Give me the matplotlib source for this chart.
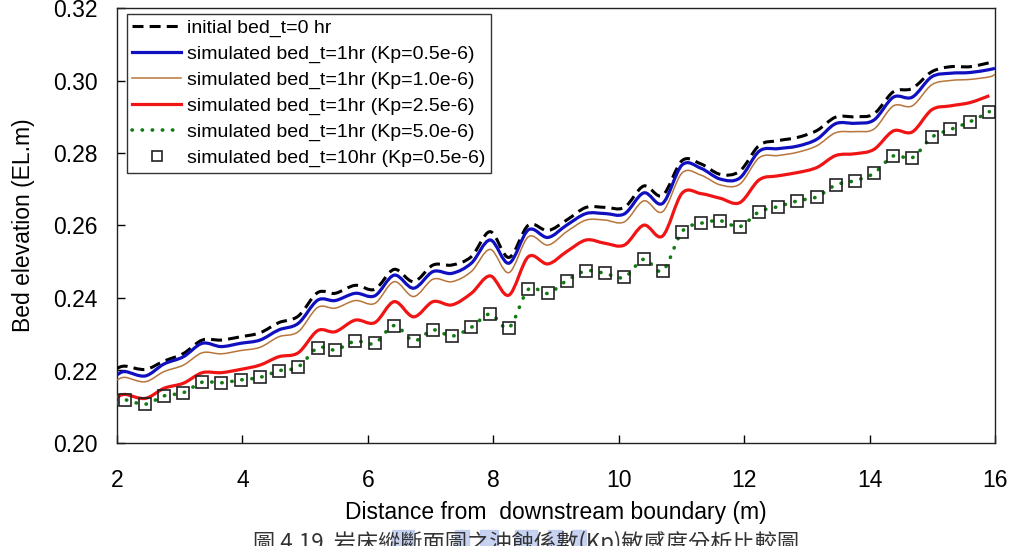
import numpy as np
import matplotlib.pyplot as plt
from matplotlib.path import Path
from matplotlib.patches import PathPatch, Rectangle
from matplotlib.lines import Line2D

plt.rcParams['font.family'] = ['Liberation Sans', 'Noto Sans CJK TC', 'DejaVu Sans']

# measuring stations (m from downstream boundary)
x_pts = [2.13, 2.45, 2.75, 3.06, 3.36, 3.66, 3.97, 4.28, 4.58, 4.89,
         5.20, 5.48, 5.80, 6.11, 6.42, 6.73, 7.04, 7.34, 7.65, 7.95,
         8.25, 8.56, 8.87, 9.17, 9.48, 9.78, 10.09, 10.40, 10.70, 11.01,
         11.31, 11.62, 11.93, 12.24, 12.54, 12.85, 13.16, 13.46, 13.77, 14.07,
         14.38, 14.68, 14.99, 15.29, 15.60, 15.91]
x_line = [2.0] + x_pts
x_long = [2.0] + x_pts + [16.0]

bed_init = [0.2206,
            0.2212, 0.2203, 0.2226, 0.2247, 0.2284, 0.2284, 0.2293, 0.2304, 0.2332, 0.2350,
            0.2415, 0.2413, 0.2435, 0.2424, 0.2479, 0.2445, 0.2491, 0.2491, 0.2514, 0.2583,
            0.2512, 0.2601, 0.2586, 0.2615, 0.2650, 0.2650, 0.2650, 0.2709, 0.2683, 0.2779,
            0.2770, 0.2741, 0.2750, 0.2821, 0.2834, 0.2843, 0.2862, 0.2899, 0.2900, 0.2908,
            0.2969, 0.2978, 0.3024, 0.3038, 0.3038, 0.3049]

bed_kp05 = [0.2188,
            0.2197, 0.2185, 0.2218, 0.2238, 0.2275, 0.2266, 0.2275, 0.2284, 0.2312, 0.2330,
            0.2394, 0.2393, 0.2413, 0.2406, 0.2463, 0.2427, 0.2473, 0.2468, 0.2496, 0.2560,
            0.2496, 0.2588, 0.2567, 0.2601, 0.2633, 0.2633, 0.2632, 0.2690, 0.2661, 0.2767,
            0.2758, 0.2728, 0.2731, 0.2805, 0.2812, 0.2819, 0.2838, 0.2881, 0.2882, 0.2891,
            0.2954, 0.2954, 0.3010, 0.3020, 0.3022, 0.3030,
            0.3034]

bed_kp10 = [0.2174,
            0.2181, 0.2169, 0.2197, 0.2215, 0.2249, 0.2246, 0.2255, 0.2264, 0.2293, 0.2307,
            0.2374, 0.2372, 0.2393, 0.2385, 0.2445, 0.2404, 0.2452, 0.2445, 0.2473, 0.2534,
            0.2470, 0.2569, 0.2546, 0.2583, 0.2615, 0.2615, 0.2610, 0.2668, 0.2638, 0.2745,
            0.2739, 0.2712, 0.2714, 0.2787, 0.2793, 0.2802, 0.2820, 0.2856, 0.2859, 0.2866,
            0.2930, 0.2930, 0.2988, 0.3000, 0.3003, 0.3010,
            0.3017]

bed_kp25 = [0.2126,
            0.2134, 0.2123, 0.2151, 0.2165, 0.2194, 0.2194, 0.2203, 0.2215, 0.2238, 0.2249,
            0.2310, 0.2307, 0.2339, 0.2332, 0.2390, 0.2348, 0.2390, 0.2381, 0.2413, 0.2461,
            0.2408, 0.2514, 0.2494, 0.2528, 0.2560, 0.2551, 0.2546, 0.2601, 0.2571, 0.2689,
            0.2688, 0.2675, 0.2663, 0.2726, 0.2737, 0.2746, 0.2760, 0.2793, 0.2798, 0.2810,
            0.2861, 0.2858, 0.2919, 0.2930, 0.2939, 0.2958]

bed_10hr = [0.2119, 0.2107, 0.2130, 0.2139, 0.2168, 0.2166, 0.2174, 0.2181, 0.2199, 0.2210,
            0.2263, 0.2257, 0.2281, 0.2275, 0.2324, 0.2282, 0.2312, 0.2295, 0.2319, 0.2356,
            0.2318, 0.2424, 0.2413, 0.2448, 0.2475, 0.2468, 0.2457, 0.2507, 0.2475, 0.2583,
            0.2606, 0.2613, 0.2597, 0.2638, 0.2652, 0.2668, 0.2679, 0.2712, 0.2724, 0.2744,
            0.2792, 0.2787, 0.2843, 0.2865, 0.2886, 0.2914]

# Kp=5.0e-6 after 1 hr falls on the 10 hr result
bed_kp50 = [0.2111] + bed_10hr

labels = ['initial bed_t=0 hr',
          'simulated bed_t=1hr (Kp=0.5e-6)',
          'simulated bed_t=1hr (Kp=1.0e-6)',
          'simulated bed_t=1hr (Kp=2.5e-6)',
          'simulated bed_t=1hr (Kp=5.0e-6)',
          'simulated bed_t=10hr (Kp=0.5e-6)']

caption = '圖 4.19  岩床縱斷面圖之沖蝕係數(Kp)敏感度分析比較圖'


def smooth_path(x, y):
    # Excel-like smoothed line: Catmull-Rom segments as cubic Beziers
    p = np.column_stack([x, y])
    n = len(p)
    verts = [p[0]]
    codes = [Path.MOVETO]
    for i in range(n - 1):
        p0 = p[i - 1] if i > 0 else p[i]
        p3 = p[i + 2] if i + 2 < n else p[i + 1]
        c1 = p[i] + (p[i + 1] - p0) / 6.0
        c2 = p[i + 1] - (p3 - p[i]) / 6.0
        verts += [c1, c2, p[i + 1]]
        codes += [Path.CURVE4] * 3
    return Path(verts, codes)


fig = plt.figure(figsize=(10.12, 5.46), dpi=100)
ax = fig.add_axes([117 / 1012, 1 - 443 / 546, 878 / 1012, 435 / 546])

styles = [
    (x_line, bed_init, dict(color='black', lw=2.2, linestyle=(0, (3.6, 2.0)))),
    (x_long, bed_kp05, dict(color='#1010C0', lw=2.3, linestyle='-')),
    (x_long, bed_kp10, dict(color='#B8753A', lw=1.1, linestyle='-')),
    (x_line, bed_kp25, dict(color='#F01414', lw=2.3, linestyle='-')),
    (x_line, bed_kp50, dict(color='#127A12', lw=2.6, linestyle=(0, (0.1, 2.7)))),
]

handles = []
for xv, yv, st in styles:
    patch = PathPatch(smooth_path(xv, yv), fill=False, transform=ax.transData,
                      edgecolor=st['color'], lw=st['lw'], linestyle=st['linestyle'],
                      capstyle='round' if st['lw'] > 2.5 else 'butt', zorder=3)
    ax.add_patch(patch)
    handles.append(Line2D([], [], color=st['color'], lw=st['lw'],
                          linestyle=st['linestyle'],
                          dash_capstyle='round' if st['lw'] > 2.5 else 'butt'))

sq = ax.plot(x_pts, bed_10hr, linestyle='none', marker='s', markersize=8,
             markerfacecolor='none', markeredgecolor='#222222',
             markeredgewidth=1.2, zorder=4)[0]
handles.append(Line2D([], [], linestyle='none', marker='s', markersize=7.5,
                      markerfacecolor='none', markeredgecolor='#222222',
                      markeredgewidth=1.2))

ax.set_xlim(2, 16)
ax.set_ylim(0.20, 0.32)
ax.set_xticks(np.arange(2, 17, 2))
ax.set_yticks(np.arange(0.20, 0.321, 0.02))
ax.set_yticklabels(['%.2f' % v for v in np.arange(0.20, 0.321, 0.02)])
ax.tick_params(direction='in', length=6, width=1, labelsize=16.5, colors='black')
ax.tick_params(axis='x', pad=19)
ax.tick_params(axis='y', pad=14)
for s in ax.spines.values():
    s.set_linewidth(1.0)
    s.set_color('#222222')

ax.set_xlabel('Distance from  downstream boundary (m)', fontsize=16.5, labelpad=6)
ax.set_ylabel('Bed elevation (EL.m)', fontsize=16.5, labelpad=13)

leg = ax.legend(handles, labels, loc='upper left', bbox_to_anchor=(0.0114, 0.986),
                fontsize=14, frameon=True, fancybox=False, edgecolor='#333333',
                framealpha=1, handlelength=2.5, handletextpad=0.3,
                labelspacing=0.42, borderpad=0.28, borderaxespad=0)
leg.get_frame().set_linewidth(1.0)

# caption of the figure, cut by the page edge
for x0, w in [(392, 22), (455, 14), (480, 18), (515, 22), (548, 14), (572, 14)]:
    fig.patches.append(Rectangle((x0 / 1012, 0), w / 1012, 16 / 546,
                                 transform=fig.transFigure, color='#B9C8EE',
                                 alpha=0.8, zorder=0))
fig.text(253 / 1012, 1 - 531 / 546, caption, fontsize=16, color='#333333',
         va='top', ha='left', family=['Noto Sans CJK TC', 'DejaVu Sans'])

plt.savefig('out.png', dpi=100)
